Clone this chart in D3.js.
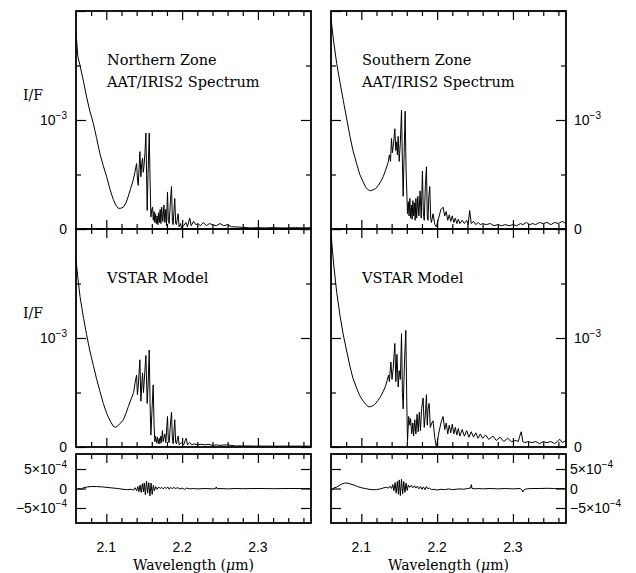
<!DOCTYPE html>
<html>
<head>
<meta charset="utf-8">
<script src="https://cdn.jsdelivr.net/npm/d3@7"></script>
<style>
  body { margin: 0; background: #fff; }
  svg { display: block; }
</style>
</head>
<body>
<svg id="chart" width="636" height="573"></svg>
<script>
// wavelength (um), I/F in units of 1e-3
const northObs = [[2.060,1.80],[2.0625,1.58],[2.0653,1.50],[2.070,1.35],[2.074,1.21],[2.078,1.09],[2.0828,0.97],[2.087,0.84],[2.0916,0.69],[2.096,0.58],[2.1004,0.48],[2.105,0.36],[2.1092,0.27],[2.1125,0.22],[2.1158,0.19],[2.119,0.19],[2.1224,0.20],[2.126,0.24],[2.129,0.30],[2.132,0.37],[2.1355,0.45],[2.1377,0.52],[2.1399,0.60],[2.1412,0.45],[2.1421,0.40],[2.1432,0.55],[2.1443,0.71],[2.1456,0.48],[2.1467,0.60],[2.1478,0.65],[2.1487,0.52],[2.1496,0.57],[2.151,0.70],[2.1522,0.88],[2.1530,0.55],[2.1539,0.17],[2.155,0.50],[2.1566,0.88],[2.1577,0.45],[2.1588,0.11],[2.160,0.18],[2.161,0.20],[2.162,0.08],[2.163,0.16],[2.164,0.06],[2.165,0.14],[2.166,0.05],[2.167,0.12],[2.168,0.04],[2.169,0.15],[2.170,0.06],[2.171,0.18],[2.172,0.05],[2.173,0.20],[2.1745,0.07],[2.176,0.22],[2.1772,0.06],[2.1785,0.18],[2.1794,0.03],[2.1807,0.34],[2.1818,0.08],[2.1829,0.05],[2.1845,0.25],[2.186,0.39],[2.1872,0.06],[2.1882,0.04],[2.1893,0.18],[2.1903,0.28],[2.1915,0.05],[2.1925,0.04],[2.1937,0.10],[2.1947,0.14],[2.196,0.02],[2.1969,0.03],[2.198,0.05],[2.1991,0.01],[2.202,0.03],[2.205,0.06],[2.207,0.02],[2.210,0.10],[2.212,0.03],[2.215,0.07],[2.218,0.04],[2.221,0.05],[2.224,0.03],[2.228,0.06],[2.232,0.03],[2.236,0.05],[2.240,0.04],[2.245,0.03],[2.250,0.05],[2.255,0.03],[2.260,0.04],[2.265,0.02],[2.270,0.02],[2.280,0.015],[2.290,0.01],[2.300,0.012],[2.310,0.01],[2.320,0.012],[2.330,0.01],[2.340,0.01],[2.350,0.012],[2.360,0.01],[2.370,0.012]];

const southObs = [[2.060,1.93],[2.0635,1.72],[2.0675,1.52],[2.072,1.34],[2.0762,1.18],[2.081,1.00],[2.085,0.85],[2.089,0.72],[2.0938,0.60],[2.098,0.50],[2.1025,0.43],[2.106,0.38],[2.1091,0.36],[2.112,0.35],[2.1157,0.36],[2.119,0.37],[2.1223,0.40],[2.126,0.44],[2.1289,0.48],[2.132,0.54],[2.1354,0.61],[2.137,0.68],[2.1385,0.62],[2.1398,0.83],[2.141,0.70],[2.1425,0.78],[2.1442,0.92],[2.1455,0.72],[2.1466,0.80],[2.1476,0.68],[2.1486,0.85],[2.150,0.62],[2.1515,0.80],[2.153,1.09],[2.1542,0.60],[2.1552,0.30],[2.1565,0.70],[2.1578,1.08],[2.159,0.55],[2.1609,0.14],[2.162,0.25],[2.163,0.12],[2.164,0.28],[2.165,0.10],[2.166,0.22],[2.167,0.09],[2.168,0.26],[2.169,0.12],[2.170,0.24],[2.171,0.08],[2.172,0.28],[2.173,0.10],[2.1745,0.30],[2.176,0.12],[2.1775,0.35],[2.179,0.10],[2.1806,0.53],[2.1818,0.15],[2.183,0.08],[2.1845,0.40],[2.1859,0.57],[2.187,0.12],[2.188,0.08],[2.189,0.30],[2.1903,0.39],[2.1915,0.10],[2.1925,0.06],[2.1946,0.14],[2.197,0.04],[2.199,0.02],[2.202,0.10],[2.205,0.18],[2.2078,0.20],[2.210,0.12],[2.212,0.16],[2.214,0.08],[2.216,0.13],[2.218,0.07],[2.220,0.12],[2.222,0.06],[2.224,0.10],[2.226,0.05],[2.228,0.09],[2.230,0.05],[2.233,0.08],[2.236,0.05],[2.239,0.08],[2.241,0.04],[2.2429,0.17],[2.245,0.05],[2.248,0.07],[2.251,0.04],[2.254,0.06],[2.257,0.04],[2.260,0.05],[2.2648,0.04],[2.27,0.05],[2.275,0.03],[2.28,0.04],[2.285,0.03],[2.29,0.04],[2.295,0.03],[2.30,0.04],[2.305,0.03],[2.31,0.05],[2.313,0.04],[2.318,0.06],[2.322,0.04],[2.326,0.05],[2.33,0.04],[2.335,0.06],[2.34,0.05],[2.345,0.06],[2.35,0.04],[2.355,0.06],[2.36,0.05],[2.365,0.07],[2.37,0.05]];

const northModel = [[2.060,1.72],[2.0625,1.55],[2.0653,1.38],[2.070,1.18],[2.074,1.03],[2.078,0.89],[2.0828,0.75],[2.087,0.63],[2.0916,0.51],[2.096,0.40],[2.1004,0.31],[2.105,0.24],[2.1092,0.19],[2.1125,0.18],[2.1158,0.20],[2.119,0.22],[2.1224,0.25],[2.126,0.31],[2.129,0.37],[2.1333,0.45],[2.136,0.50],[2.1377,0.58],[2.1399,0.66],[2.141,0.48],[2.142,0.55],[2.1443,0.80],[2.1456,0.42],[2.147,0.60],[2.1478,0.68],[2.149,0.50],[2.1522,0.84],[2.1539,0.40],[2.155,0.55],[2.1566,0.89],[2.1577,0.40],[2.1588,0.11],[2.160,0.30],[2.1618,0.57],[2.163,0.20],[2.164,0.05],[2.165,0.10],[2.1662,0.04],[2.1675,0.09],[2.1684,0.03],[2.170,0.08],[2.1706,0.03],[2.172,0.10],[2.1728,0.04],[2.174,0.15],[2.175,0.05],[2.1772,0.12],[2.1785,0.04],[2.1807,0.28],[2.1818,0.06],[2.1829,0.04],[2.1845,0.20],[2.186,0.32],[2.1872,0.06],[2.1882,0.03],[2.1893,0.15],[2.1903,0.25],[2.1915,0.04],[2.1925,0.03],[2.1937,0.07],[2.1947,0.10],[2.196,0.02],[2.1991,0.04],[2.202,0.02],[2.204,0.06],[2.2055,0.08],[2.207,0.02],[2.210,0.04],[2.213,0.02],[2.216,0.03],[2.220,0.02],[2.225,0.025],[2.230,0.02],[2.235,0.025],[2.240,0.015],[2.245,0.02],[2.25,0.015],[2.26,0.02],[2.27,0.01],[2.28,0.01],[2.30,0.008],[2.32,0.008],[2.34,0.008],[2.36,0.008],[2.37,0.008]];

const southModel = [[2.060,1.96],[2.0635,1.68],[2.0675,1.42],[2.072,1.20],[2.0762,1.03],[2.081,0.87],[2.085,0.74],[2.089,0.63],[2.0938,0.54],[2.098,0.47],[2.1025,0.42],[2.106,0.39],[2.1091,0.37],[2.112,0.37],[2.1157,0.38],[2.119,0.40],[2.1223,0.43],[2.126,0.47],[2.1289,0.51],[2.132,0.56],[2.134,0.61],[2.136,0.66],[2.137,0.60],[2.139,0.78],[2.1405,0.62],[2.142,0.72],[2.1442,0.95],[2.1455,0.60],[2.147,0.85],[2.1486,0.55],[2.150,0.70],[2.1515,0.62],[2.153,1.04],[2.1542,0.50],[2.1552,0.35],[2.157,0.80],[2.1587,1.07],[2.160,0.40],[2.1609,0.05],[2.1625,0.28],[2.164,0.20],[2.165,0.26],[2.1665,0.12],[2.168,0.22],[2.169,0.10],[2.1705,0.25],[2.172,0.12],[2.1735,0.30],[2.175,0.14],[2.1765,0.32],[2.178,0.15],[2.1795,0.35],[2.1815,0.45],[2.183,0.18],[2.1845,0.30],[2.1859,0.48],[2.187,0.20],[2.188,0.35],[2.1895,0.40],[2.191,0.18],[2.193,0.22],[2.1946,0.24],[2.197,0.08],[2.199,0.00],[2.202,0.12],[2.205,0.22],[2.2078,0.28],[2.210,0.16],[2.212,0.22],[2.214,0.12],[2.216,0.20],[2.218,0.13],[2.220,0.21],[2.222,0.12],[2.224,0.18],[2.226,0.11],[2.228,0.17],[2.230,0.10],[2.233,0.16],[2.236,0.10],[2.239,0.15],[2.242,0.09],[2.245,0.14],[2.248,0.09],[2.251,0.13],[2.254,0.08],[2.257,0.12],[2.260,0.08],[2.264,0.11],[2.268,0.07],[2.2736,0.10],[2.278,0.06],[2.283,0.09],[2.288,0.05],[2.293,0.08],[2.298,0.05],[2.3043,0.06],[2.307,0.05],[2.309,0.10],[2.311,0.14],[2.313,0.05],[2.316,0.04],[2.32,0.05],[2.325,0.04],[2.33,0.05],[2.335,0.03],[2.34,0.05],[2.345,0.04],[2.35,0.05],[2.355,0.03],[2.36,0.06],[2.362,0.07],[2.365,0.04],[2.37,0.06]];

// residuals, units of 1e-4
const northResid = [[2.060,0.0],[2.062,-0.4],[2.064,0.1],[2.066,-0.2],[2.070,0.2],[2.075,0.4],[2.080,0.5],[2.087,0.5],[2.095,0.4],[2.105,0.2],[2.115,0.0],[2.122,-0.2],[2.128,-0.3],[2.133,-0.2],[2.136,-0.4],[2.138,0.2],[2.140,-0.6],[2.1415,0.5],[2.143,-0.8],[2.1445,0.9],[2.146,-1.0],[2.1475,1.2],[2.149,-0.9],[2.150,1.4],[2.1515,-1.6],[2.153,1.9],[2.1545,-1.2],[2.156,1.5],[2.1575,-1.9],[2.159,1.4],[2.1605,-1.5],[2.162,0.8],[2.1635,-0.6],[2.165,0.5],[2.167,-0.2],[2.169,0.4],[2.171,0.0],[2.173,0.3],[2.175,-0.1],[2.177,0.3],[2.179,0.0],[2.181,0.4],[2.183,-0.2],[2.185,0.3],[2.187,-0.1],[2.189,0.3],[2.191,0.0],[2.194,0.2],[2.197,-0.1],[2.200,0.1],[2.203,-0.2],[2.206,0.1],[2.210,-0.1],[2.215,0.0],[2.220,-0.1],[2.230,0.0],[2.240,-0.1],[2.244,0.0],[2.245,0.4],[2.246,-0.1],[2.250,0.0],[2.260,-0.1],[2.270,0.0],[2.280,-0.05],[2.30,0.0],[2.32,-0.05],[2.34,0.0],[2.36,0.0],[2.37,0.0]];

const southResid = [[2.060,0.0],[2.062,-0.4],[2.064,0.2],[2.067,0.3],[2.070,0.7],[2.074,1.1],[2.078,1.4],[2.081,1.4],[2.085,1.2],[2.090,0.9],[2.095,0.5],[2.100,0.2],[2.105,0.0],[2.110,-0.2],[2.115,-0.3],[2.120,-0.3],[2.125,-0.1],[2.130,0.2],[2.133,0.3],[2.136,0.1],[2.138,0.6],[2.140,0.0],[2.1415,1.0],[2.143,-0.6],[2.1445,1.5],[2.146,-1.2],[2.1475,1.8],[2.149,-1.5],[2.150,2.2],[2.1515,-1.8],[2.153,2.4],[2.1545,-1.4],[2.156,1.8],[2.1575,-1.0],[2.159,1.4],[2.1605,-0.5],[2.162,0.9],[2.164,0.3],[2.166,0.8],[2.168,0.2],[2.170,0.7],[2.172,0.1],[2.174,0.6],[2.176,-0.1],[2.178,0.5],[2.180,-0.2],[2.182,0.4],[2.184,-0.3],[2.186,0.5],[2.188,-0.1],[2.190,0.1],[2.193,-0.3],[2.196,-0.2],[2.200,-0.4],[2.205,-0.2],[2.210,-0.3],[2.215,-0.1],[2.220,-0.3],[2.225,-0.2],[2.230,-0.1],[2.235,-0.2],[2.240,0.0],[2.244,0.1],[2.2451,1.0],[2.246,0.0],[2.250,-0.1],[2.255,0.0],[2.260,-0.1],[2.270,0.0],[2.280,-0.1],[2.290,0.0],[2.300,-0.1],[2.310,0.0],[2.312,-0.4],[2.313,-0.9],[2.315,-0.3],[2.318,-0.1],[2.325,0.0],[2.335,0.0],[2.345,0.05],[2.355,0.0],[2.365,0.0],[2.37,0.0]];

const xMajor = [2.1, 2.2, 2.3];
const xMinor = [2.08, 2.12, 2.14, 2.16, 2.18, 2.22, 2.24, 2.26, 2.28, 2.32, 2.34, 2.36];
const specMajor = [0, 1, 2];
const specMinor = [0.5, 1.5];
const residMajor = [-5, 0, 5];

const svg = d3.select("#chart");
const serif = "'DejaVu Serif', serif";
const sans = "'Liberation Sans', Arial, sans-serif";

const columns = {
    left: { x0: 76, x1: 311, side: "left" },
    right: { x0: 331, x1: 566, side: "right" }
};
const rows = {
    top: { y0: 11, y1: 229, domain: [0, 2] },
    mid: { y0: 229, y1: 447, domain: [0, 2] },
    res: { y0: 454, y1: 523, domain: [-8.85, 8.85] }
};

let clipId = 0;

function drawPanel(col, row, data, isResid) {
    const x = d3.scaleLinear().domain([2.06, 2.37]).range([col.x0, col.x1]);
    const y = d3.scaleLinear().domain(row.domain).range([row.y1, row.y0]);
    const w = col.x1 - col.x0, h = row.y1 - row.y0;

    const id = "clip" + (clipId++);
    svg.append("clipPath").attr("id", id)
        .append("rect").attr("x", col.x0).attr("y", row.y0).attr("width", w).attr("height", h);

    const line = d3.line().x(d => x(d[0])).y(d => y(d[1]));
    svg.append("path")
        .datum(data)
        .attr("clip-path", `url(#${id})`)
        .attr("fill", "none")
        .attr("stroke", "#000")
        .attr("stroke-width", 1)
        .attr("stroke-linejoin", "round")
        .attr("d", line);

    // inward ticks on all four sides
    const tick = (axisFn, scale, values, size, tx, ty) => {
        svg.append("g")
            .attr("transform", `translate(${tx},${ty})`)
            .attr("color", "#000")
            .call(axisFn(scale).tickValues(values).tickSize(-size).tickFormat(""))
            .call(g => g.select(".domain").remove())
            .selectAll("line").attr("stroke-width", 1.2);
    };
    tick(d3.axisBottom, x, xMajor, 9, 0, row.y1);
    tick(d3.axisBottom, x, xMinor, 5, 0, row.y1);
    tick(d3.axisTop, x, xMajor, 9, 0, row.y0);
    tick(d3.axisTop, x, xMinor, 5, 0, row.y0);
    const yMaj = isResid ? residMajor : specMajor;
    tick(d3.axisLeft, y, yMaj, 10, col.x0, 0);
    tick(d3.axisRight, y, yMaj, 10, col.x1, 0);
    if (!isResid) {
        tick(d3.axisLeft, y, specMinor, 5, col.x0, 0);
        tick(d3.axisRight, y, specMinor, 5, col.x1, 0);
    }

    svg.append("rect")
        .attr("x", col.x0).attr("y", row.y0)
        .attr("width", w).attr("height", h)
        .attr("fill", "none").attr("stroke", "#000").attr("stroke-width", 1.8);

    return { x, y };
}

function yLabel(col, y, value, mant, exp, isResid) {
    const left = col.side === "left";
    const t = svg.append("text")
        .attr("x", left ? 67 : (isResid ? 570 : 574))
        .attr("y", y(value) + 5)
        .attr("text-anchor", left ? "end" : "start")
        .attr("font-family", sans)
        .attr("font-size", 14)
        .attr("fill", "#000");
    if (exp === null) {
        t.text(mant);
        return;
    }
    t.append("tspan").text(mant + "10");
    t.append("tspan").attr("dy", -6).attr("font-size", 10).text("\u2212" + exp);
}

function drawColumn(col, obs, model, resid, title) {
    const top = drawPanel(col, rows.top, obs, false);
    const mid = drawPanel(col, rows.mid, model, false);
    const res = drawPanel(col, rows.res, resid, true);

    const tx = col.x0 + 31;
    const txt = (s, yy) => svg.append("text")
        .attr("x", tx).attr("y", yy)
        .attr("font-family", serif).attr("font-size", 14.5)
        .attr("fill", "#000").text(s);
    txt(title, 65);
    txt("AAT/IRIS2 Spectrum", 87);
    txt("VSTAR Model", 283);

    [top, mid].forEach(p => {
        yLabel(col, p.y, 0, "0", null, false);
        yLabel(col, p.y, 1, "", "3", false);
    });
    yLabel(col, res.y, 5, "5\u00d7", "4", true);
    yLabel(col, res.y, 0, "0", null, true);
    yLabel(col, res.y, -5, "\u22125\u00d7", "4", true);

    if (col.side === "left") {
        [top.y, mid.y].forEach(yy => {
            svg.append("text")
                .attr("x", 33).attr("y", yy(1) - 20)
                .attr("text-anchor", "middle")
                .attr("font-family", serif).attr("font-size", 14)
                .attr("fill", "#000").text("I/F");
        });
    }

    svg.append("g").selectAll("text")
        .data(xMajor)
        .join("text")
        .attr("x", d => res.x(d))
        .attr("y", 552)
        .attr("text-anchor", "middle")
        .attr("font-family", sans).attr("font-size", 14)
        .attr("fill", "#000")
        .text(d => d3.format(".1f")(d));

    const wl = svg.append("text")
        .attr("x", (col.x0 + col.x1) / 2)
        .attr("y", 570)
        .attr("text-anchor", "middle")
        .attr("font-family", serif).attr("font-size", 14)
        .attr("fill", "#000");
    wl.append("tspan").text("Wavelength (");
    wl.append("tspan").attr("font-style", "italic").text("\u03bc");
    wl.append("tspan").text("m)");
}

drawColumn(columns.left, northObs, northModel, northResid, "Northern Zone");
drawColumn(columns.right, southObs, southModel, southResid, "Southern Zone");
</script>
</body>
</html>
